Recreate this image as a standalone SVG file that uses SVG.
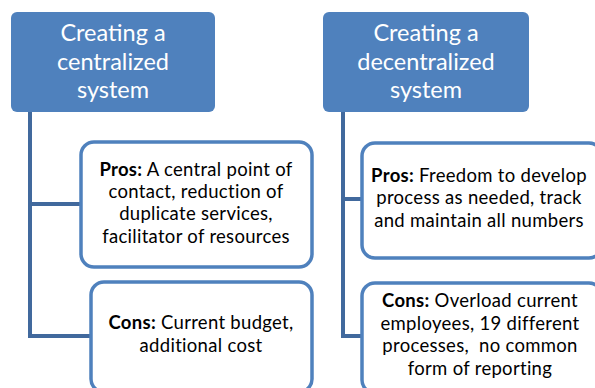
<svg xmlns="http://www.w3.org/2000/svg" width="595" height="388" viewBox="0 0 595 388">
<style>
.hdr{fill:#4F81BD;}
.ht{fill:#fff;font-family:Lato,"Open Sans","Liberation Sans",sans-serif;font-size:23.5px;text-anchor:middle;}
.box{fill:#fff;stroke:#4F81BD;stroke-width:3.5;}
.bt{fill:#000;font-family:Lato,"Open Sans","Liberation Sans",sans-serif;font-size:18.5px;letter-spacing:0.3px;text-anchor:middle;white-space:pre;}
.b{font-weight:bold;}
.con{fill:none;stroke:#41699D;stroke-width:4;}
</style>
<rect width="595" height="388" fill="#fff"/>
<g id="connectors">
<path class="con" d="M30 112 V336 H91 M30 204 H81"/>
<path class="con" d="M343 112 V336 H362 M343 199 H362"/>
</g>
<g id="h1">
<rect class="hdr" x="11" y="12" width="204" height="100" rx="6"/>
<text class="ht" x="113" y="41">Creating a</text>
<text class="ht" x="113" y="70">centralized</text>
<text class="ht" x="113" y="98">system</text>
</g>
<g id="h2">
<rect class="hdr" x="323" y="12" width="206" height="100" rx="6"/>
<text class="ht" x="426" y="41">Creating a</text>
<text class="ht" x="426" y="70">decentralized</text>
<text class="ht" x="426" y="98">system</text>
</g>
<g id="p1">
<rect class="box" x="81" y="142" width="231" height="125" rx="13"/>
<text class="bt" x="196" y="176"><tspan class="b">Pros:</tspan> A central point of</text>
<text class="bt" x="196" y="198">contact, reduction of</text>
<text class="bt" x="196" y="220">duplicate services,</text>
<text class="bt" x="196" y="243">facilitator of resources</text>
</g>
<g id="c1">
<rect class="box" x="91" y="282" width="221" height="110" rx="13"/>
<text class="bt" x="201" y="329"><tspan class="b">Cons:</tspan> Current budget,</text>
<text class="bt" x="201" y="352">additional cost</text>
</g>
<g id="p2">
<rect class="box" x="362" y="143" width="240" height="115" rx="13"/>
<text class="bt" x="479" y="182"><tspan class="b">Pros:</tspan> Freedom to develop</text>
<text class="bt" x="479" y="204">process as needed, track</text>
<text class="bt" x="479" y="227">and maintain all numbers</text>
</g>
<g id="c2">
<rect class="box" x="362" y="283" width="240" height="110" rx="13"/>
<text class="bt" x="480" y="307"><tspan class="b">Cons:</tspan> Overload current</text>
<text class="bt" x="480" y="330">employees, 19 different</text>
<text class="bt" x="480" y="352" xml:space="preserve">processes,  no common</text>
<text class="bt" x="480" y="375">form of reporting</text>
</g>
</svg>
